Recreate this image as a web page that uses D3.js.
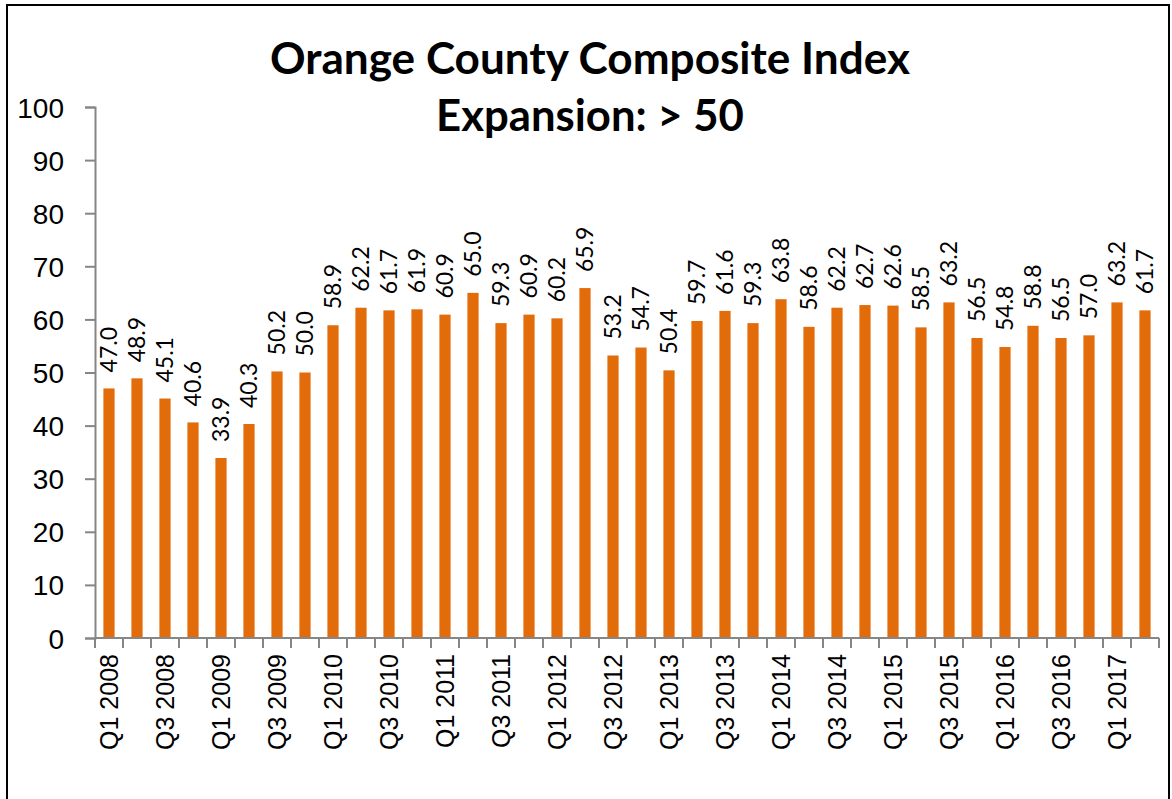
<!DOCTYPE html>
<html>
<head>
<meta charset="utf-8">
<script src="https://cdn.jsdelivr.net/npm/d3@7"></script>
<style>
  body { margin: 0; background: #fff; }
  svg { display: block; }
</style>
</head>
<body>
<script>
// quarters Q1 2008 .. Q2 2017
var years = [2008, 2009, 2010, 2011, 2012, 2013, 2014, 2015, 2016, 2017];
var quarters = [];
years.forEach(function(yr) {
  ['Q1', 'Q2', 'Q3', 'Q4'].forEach(function(q) {
    if (quarters.length < 38) quarters.push(q + ' ' + yr);
  });
});

var indexValues = [47.0, 48.9, 45.1, 40.6, 33.9, 40.3, 50.2, 50.0, 58.9, 62.2,
                   61.7, 61.9, 60.9, 65.0, 59.3, 60.9, 60.2, 65.9, 53.2, 54.7,
                   50.4, 59.7, 61.6, 59.3, 63.8, 58.6, 62.2, 62.7, 62.6, 58.5,
                   63.2, 56.5, 54.8, 58.8, 56.5, 57.0, 63.2, 61.7];

var yTicks = [0, 10, 20, 30, 40, 50, 60, 70, 80, 90, 100];
var titleLines = ['Orange County Composite Index', 'Expansion: > 50'];

var W = 1172, H = 799;
var plotLeft = 95, plotRight = 1159, plotTop = 107, plotBottom = 638;
var barColor = '#e36c0a';
var axisColor = '#868686';

var svg = d3.select('body').append('svg')
  .attr('width', W)
  .attr('height', H);

// outer chart border
svg.append('rect')
  .attr('x', 7).attr('y', 5)
  .attr('width', 1162).attr('height', 820)
  .attr('fill', 'none')
  .attr('stroke', '#000')
  .attr('stroke-width', 2);

var x = d3.scaleBand()
  .domain(quarters)
  .range([plotLeft, plotRight])
  .paddingInner(0.6)
  .paddingOuter(0.3);

var y = d3.scaleLinear()
  .domain([0, 100])
  .range([plotBottom, plotTop]);

// title, scaled so the bold text fills the same width as the original
var titleTargets = [640, 308];
titleLines.forEach(function(t, i) {
  var txt = svg.append('text')
    .attr('x', 590)
    .attr('y', i === 0 ? 74 : 131)
    .attr('text-anchor', 'middle')
    .style('font-family', 'Lato, "Open Sans", sans-serif')
    .style('font-weight', 'bold')
    .style('font-size', '40px')
    .attr('fill', '#000')
    .text(t);
  var w = txt.node().getComputedTextLength();
  if (w > 0) txt.style('font-size', (40 * titleTargets[i] / w) + 'px');
});

// y axis
var yAxis = svg.append('g')
  .attr('transform', 'translate(' + plotLeft + ',0)')
  .call(d3.axisLeft(y).tickValues(yTicks).tickSize(10).tickPadding(21).tickFormat(d3.format('d')));
yAxis.select('.domain').attr('stroke', axisColor).attr('stroke-width', 2);
yAxis.selectAll('.tick line').attr('stroke', axisColor).attr('stroke-width', 2);
yAxis.selectAll('.tick text')
  .attr('dy', '0.36em')
  .style('font-family', '"Liberation Sans", Arial, sans-serif')
  .style('font-size', '28px')
  .attr('fill', '#000');

// bars
svg.selectAll('rect.bar')
  .data(indexValues)
  .enter()
  .append('rect')
  .attr('class', 'bar')
  .attr('x', function(d, i) { return x(quarters[i]); })
  .attr('y', function(d) { return y(d); })
  .attr('width', x.bandwidth())
  .attr('height', function(d) { return y(0) - y(d); })
  .attr('fill', barColor);

// data labels, rotated
svg.selectAll('text.val')
  .data(indexValues)
  .enter()
  .append('text')
  .attr('class', 'val')
  .attr('transform', function(d, i) {
    var cx = x(quarters[i]) + x.bandwidth() / 2;
    return 'translate(' + cx + ',' + (y(d) - 16) + ') rotate(-90)';
  })
  .attr('dy', '0.36em')
  .attr('text-anchor', 'start')
  .style('font-family', 'Lato, "Open Sans", sans-serif')
  .style('font-size', '23px')
  .attr('fill', '#000')
  .text(function(d) { return d.toFixed(1); });

// x axis: line, ticks at category boundaries, every other label
var step = x.step();
var gx = svg.append('g');
gx.append('line')
  .attr('x1', plotLeft).attr('x2', plotRight)
  .attr('y1', plotBottom).attr('y2', plotBottom)
  .attr('stroke', axisColor).attr('stroke-width', 2);

var boundaries = d3.range(quarters.length + 1);
gx.selectAll('line.tk')
  .data(boundaries)
  .enter()
  .append('line')
  .attr('class', 'tk')
  .attr('x1', function(k) { return plotLeft + k * step; })
  .attr('x2', function(k) { return plotLeft + k * step; })
  .attr('y1', plotBottom).attr('y2', plotBottom + 10)
  .attr('stroke', axisColor).attr('stroke-width', 2);

gx.selectAll('text.xl')
  .data(quarters.filter(function(q, i) { return i % 2 === 0; }))
  .enter()
  .append('text')
  .attr('class', 'xl')
  .attr('transform', function(q) {
    var cx = x(q) + x.bandwidth() / 2;
    return 'translate(' + cx + ',' + (plotBottom + 16) + ') rotate(-90)';
  })
  .attr('dy', '0.36em')
  .attr('text-anchor', 'end')
  .style('font-family', '"Liberation Sans", Arial, sans-serif')
  .style('font-size', '25px')
  .attr('fill', '#000')
  .text(function(q) { return q; });
</script>
</body>
</html>
